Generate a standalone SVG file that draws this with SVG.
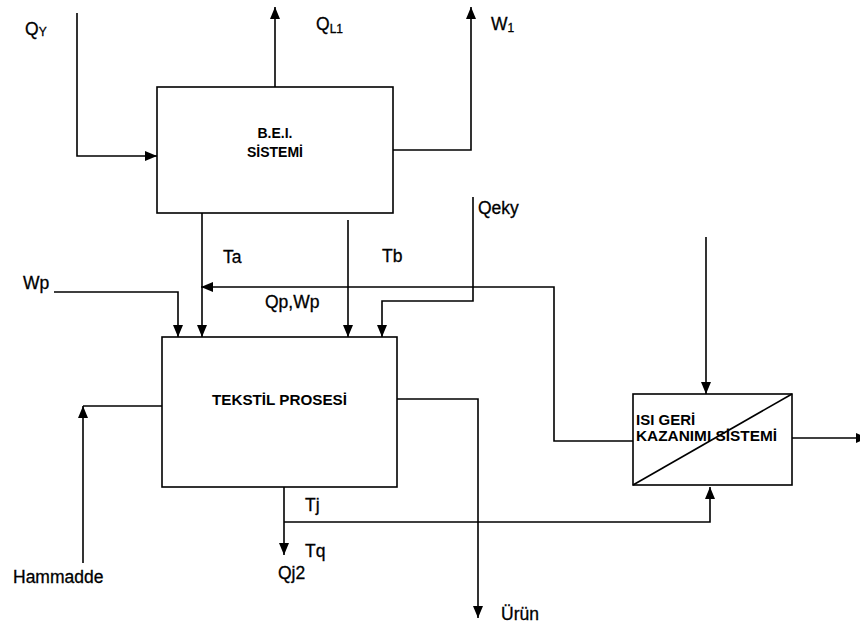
<svg xmlns="http://www.w3.org/2000/svg" width="860" height="624" viewBox="0 0 860 624">
<style>
.box{fill:#fff;stroke:#000;stroke-width:1.6}
.ln{fill:none;stroke:#000;stroke-width:1.6}
.arr{fill:none;stroke:#000;stroke-width:1.6;marker-end:url(#ah)}
.lbl{font-family:"Liberation Sans",Arial,sans-serif;font-size:17.5px;fill:#000;stroke:#000;stroke-width:0.3}
.btx{font-family:"Liberation Sans",Arial,sans-serif;font-size:14px;font-weight:bold;fill:#000}
</style>
<defs>
<marker id="ah" viewBox="0 0 12 10" refX="12" refY="5" markerWidth="12" markerHeight="10" markerUnits="userSpaceOnUse" orient="auto">
<path d="M0,0 L12,5 L0,10 z" fill="#000"/>
</marker>
</defs>
<rect width="860" height="624" fill="#fff"/>
<g id="connectors">
<path class="arr" d="M77,13 V156 H157"/>
<path class="arr" d="M275,87 V7"/>
<path class="arr" d="M393,150 H471 V7"/>
<path class="arr" d="M202,213 V337"/>
<path class="arr" d="M348,220 V337"/>
<path class="arr" d="M54,292 H178 V337"/>
<path class="arr" d="M473,197 V301 H382 V337"/>
<path class="arr" d="M633,441 H554 V287 H201"/>
<path class="arr" d="M706,237 V394"/>
<path class="arr" d="M792,438 H868"/>
<path class="arr" d="M284,487 V555"/>
<path class="arr" d="M284,522 H710 V487"/>
<path class="arr" d="M83,563 V406"/>
<path class="ln" d="M83,406 H163"/>
<path class="arr" d="M397,399 H478 V618"/>
</g>
<g id="bei">
<rect class="box" x="157" y="87" width="236" height="126"/>
<text class="btx" x="275" y="138" text-anchor="middle">B.E.I.</text>
<text class="btx" x="275" y="157" text-anchor="middle">SİSTEMİ</text>
</g>
<g id="tekstil">
<rect class="box" x="162" y="337" width="235" height="150"/>
<text class="btx" x="212" y="405" style="font-size:15px" textLength="135" lengthAdjust="spacingAndGlyphs">TEKSTİL PROSESİ</text>
</g>
<g id="isi">
<rect class="box" x="633" y="394" width="159" height="91"/>
<line class="ln" x1="633" y1="485" x2="792" y2="394"/>
<text class="btx" x="636" y="425" style="font-size:15px">ISI GERİ</text>
<text class="btx" x="636" y="441" style="font-size:15px" textLength="141" lengthAdjust="spacingAndGlyphs">KAZANIMI SİSTEMİ</text>
</g>
<g id="labels">
<text class="lbl" x="25" y="35">Q<tspan style="font-size:12px" dy="1">Y</tspan></text>
<text class="lbl" x="316" y="30">Q<tspan style="font-size:12px" dy="3">L1</tspan></text>
<text class="lbl" x="491" y="30">W<tspan style="font-size:12px" dy="2">1</tspan></text>
<text class="lbl" x="223" y="263">Ta</text>
<text class="lbl" x="382" y="262">Tb</text>
<text class="lbl" x="23" y="289">Wp</text>
<text class="lbl" x="265" y="308">Qp,Wp</text>
<text class="lbl" x="478" y="214">Qeky</text>
<text class="lbl" x="305" y="511">Tj</text>
<text class="lbl" x="305" y="557">Tq</text>
<text class="lbl" x="278" y="579">Qj2</text>
<text class="lbl" x="13" y="583">Hammadde</text>
<text class="lbl" x="501" y="620">Ürün</text>
</g>
</svg>
